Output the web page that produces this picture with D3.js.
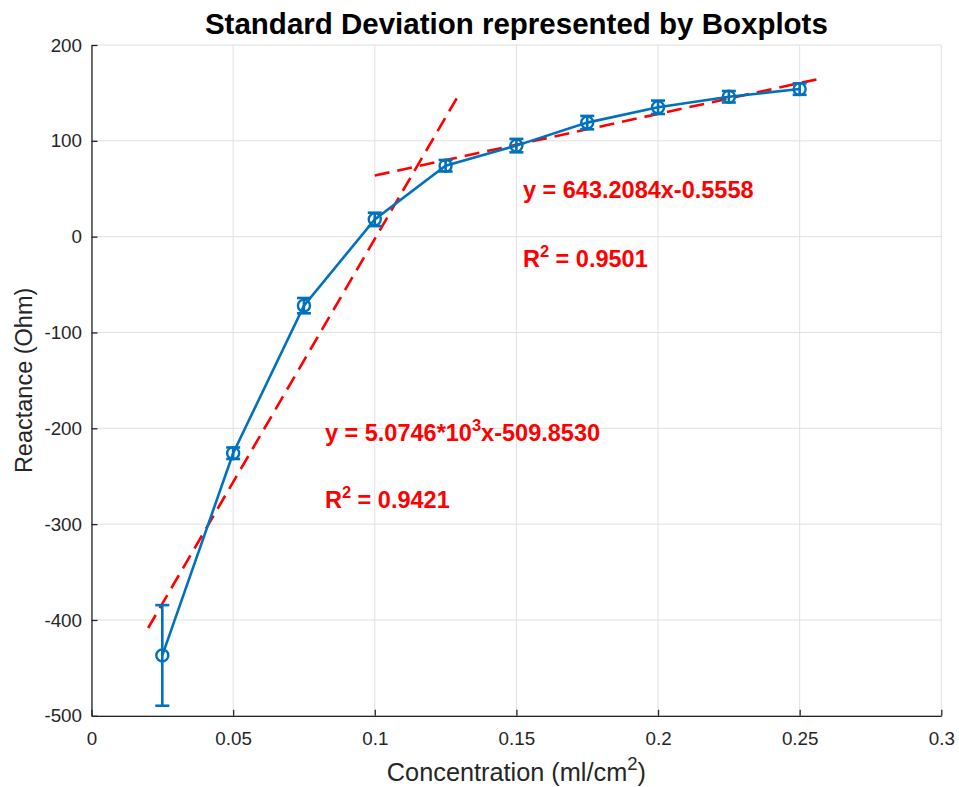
<!DOCTYPE html>
<html>
<head>
<meta charset="utf-8">
<script src="https://cdn.jsdelivr.net/npm/d3@7"></script>
<style>
  html, body { margin: 0; padding: 0; background: #fff; }
  svg { display: block; font-family: "Liberation Sans", Arial, Helvetica, sans-serif; }
</style>
</head>
<body>
<svg id="chart" width="959" height="787"></svg>
<script>
// Measured reactance per concentration, with standard deviation
const concentration = [0.025, 0.05, 0.075, 0.1, 0.125, 0.15, 0.175, 0.2, 0.225, 0.25];
const reactance     = [-437, -226, -72, 18, 74, 95, 119, 135, 146, 154];
const stdDev        = [52.5, 6, 8, 7, 6, 7, 7, 7, 6, 6];

// Linear fits of the two regimes
const fitLow  = { slope: 5074.6,   intercept: -509.8530, from: 0.02, to: 0.13 };
const fitHigh = { slope: 643.2084, intercept: -0.5558,   from: 0.1,  to: 0.258 };

// Fit annotations: baseline anchor [x, y] in data units
const fitLabels = [
  { x: 0.1523, y: 40,   parts: [["y = 643.2084x-0.5558"]] },
  { x: 0.1523, y: -32,  parts: [["R"], ["2", "sup"], [" = 0.9501"]] },
  { x: 0.0824, y: -213, parts: [["y = 5.0746*10"], ["3", "sup"], ["x-509.8530"]] },
  { x: 0.0824, y: -283, parts: [["R"], ["2", "sup"], [" = 0.9421"]] }
];

const xTicks = [0, 0.05, 0.1, 0.15, 0.2, 0.25, 0.3];
const yTicks = [-500, -400, -300, -200, -100, 0, 100, 200];

const W = 959, H = 787;
const margin = { left: 91.5, right: W - 941.3, top: 45, bottom: H - 715.8 };
const blue = "#0072BD", red = "#FF0000", axisColor = "#262626";

const svg = d3.select("#chart");
const x = d3.scaleLinear().domain([0, 0.3]).range([margin.left, W - margin.right]);
const y = d3.scaleLinear().domain([-500, 200]).range([H - margin.bottom, margin.top]);

// grid
const grid = svg.append("g").attr("stroke", "#e0e0e0").attr("stroke-width", 1);
grid.selectAll("line.gx").data(xTicks).join("line")
  .attr("x1", d => x(d)).attr("x2", d => x(d))
  .attr("y1", y(-500)).attr("y2", y(200));
grid.selectAll("line.gy").data(yTicks).join("line")
  .attr("y1", d => y(d)).attr("y2", d => y(d))
  .attr("x1", x(0)).attr("x2", x(0.3));

// axes (ticks point inward, plain hyphen for negatives)
const fmt = d => d3.format("~g")(d).replace("\u2212", "-");
const xAxis = svg.append("g").attr("transform", `translate(0,${y(-500)})`)
  .call(d3.axisBottom(x).tickValues(xTicks).tickFormat(fmt)
    .tickSizeInner(-6).tickSizeOuter(0).tickPadding(16));
const yAxis = svg.append("g").attr("transform", `translate(${x(0)},0)`)
  .call(d3.axisLeft(y).tickValues(yTicks).tickFormat(fmt)
    .tickSizeInner(-6).tickSizeOuter(0).tickPadding(9.5));
[xAxis, yAxis].forEach(a => {
  a.select(".domain").attr("stroke", axisColor).attr("stroke-width", 1.3);
  a.selectAll(".tick line").attr("stroke", axisColor).attr("stroke-width", 1.3);
  a.selectAll(".tick text").attr("fill", axisColor).attr("font-size", 18.8)
    .attr("font-family", "Liberation Sans, Arial, sans-serif");
});
xAxis.selectAll(".tick text").attr("dy", "0.71em");

// fit lines
const fitLine = f => [[f.from, f.slope * f.from + f.intercept], [f.to, f.slope * f.to + f.intercept]];
svg.append("g").selectAll("line").data([fitLow, fitHigh].map(fitLine)).join("line")
  .attr("x1", d => x(d[0][0])).attr("y1", d => y(d[0][1]))
  .attr("x2", d => x(d[1][0])).attr("y2", d => y(d[1][1]))
  .attr("stroke", red).attr("stroke-width", 2.6).attr("stroke-dasharray", "15,8");

// mean line
const pts = concentration.map((c, i) => ({ c, v: reactance[i], s: stdDev[i] }));
svg.append("path").datum(pts)
  .attr("d", d3.line().x(d => x(d.c)).y(d => y(d.v)))
  .attr("fill", "none").attr("stroke", blue).attr("stroke-width", 2.6);

// error bars
const eb = svg.append("g").attr("stroke", blue).attr("stroke-width", 2.6).attr("fill", "none");
const cap = 7;
pts.forEach(d => {
  eb.append("line").attr("x1", x(d.c)).attr("x2", x(d.c)).attr("y1", y(d.v - d.s)).attr("y2", y(d.v + d.s));
  eb.append("line").attr("x1", x(d.c) - cap).attr("x2", x(d.c) + cap).attr("y1", y(d.v - d.s)).attr("y2", y(d.v - d.s));
  eb.append("line").attr("x1", x(d.c) - cap).attr("x2", x(d.c) + cap).attr("y1", y(d.v + d.s)).attr("y2", y(d.v + d.s));
});
// markers
svg.append("g").selectAll("circle").data(pts).join("circle")
  .attr("cx", d => x(d.c)).attr("cy", d => y(d.v)).attr("r", 6)
  .attr("fill", "none").attr("stroke", blue).attr("stroke-width", 2.4);

// fit annotations
fitLabels.forEach(l => {
  const t = svg.append("text").attr("x", x(l.x)).attr("y", y(l.y))
    .attr("fill", red).attr("font-weight", "bold").attr("font-size", 23.5);
  let raised = false;
  l.parts.forEach(p => {
    const ts = t.append("tspan").text(p[0]);
    if (p[1] === "sup") { ts.attr("font-size", 16.5).attr("dy", -10); raised = true; }
    else if (raised) { ts.attr("dy", 10); raised = false; }
  });
});

// title
svg.append("text").attr("x", (x(0) + x(0.3)) / 2).attr("y", 34)
  .attr("text-anchor", "middle").attr("font-weight", "bold").attr("font-size", 29.5)
  .attr("fill", "#000").text("Standard Deviation represented by Boxplots");

// axis labels
const xl = svg.append("text").attr("x", (x(0) + x(0.3)) / 2).attr("y", 781)
  .attr("text-anchor", "middle").attr("font-size", 25.3).attr("fill", axisColor);
xl.append("tspan").text("Concentration (ml/cm");
xl.append("tspan").text("2").attr("font-size", 18.5).attr("dy", -11);
xl.append("tspan").text(")").attr("dy", 11);

svg.append("text").attr("transform", `translate(32,${(y(-500) + y(200)) / 2}) rotate(-90)`)
  .attr("text-anchor", "middle").attr("font-size", 23.5).attr("fill", axisColor)
  .text("Reactance (Ohm)");
</script>
</body>
</html>
